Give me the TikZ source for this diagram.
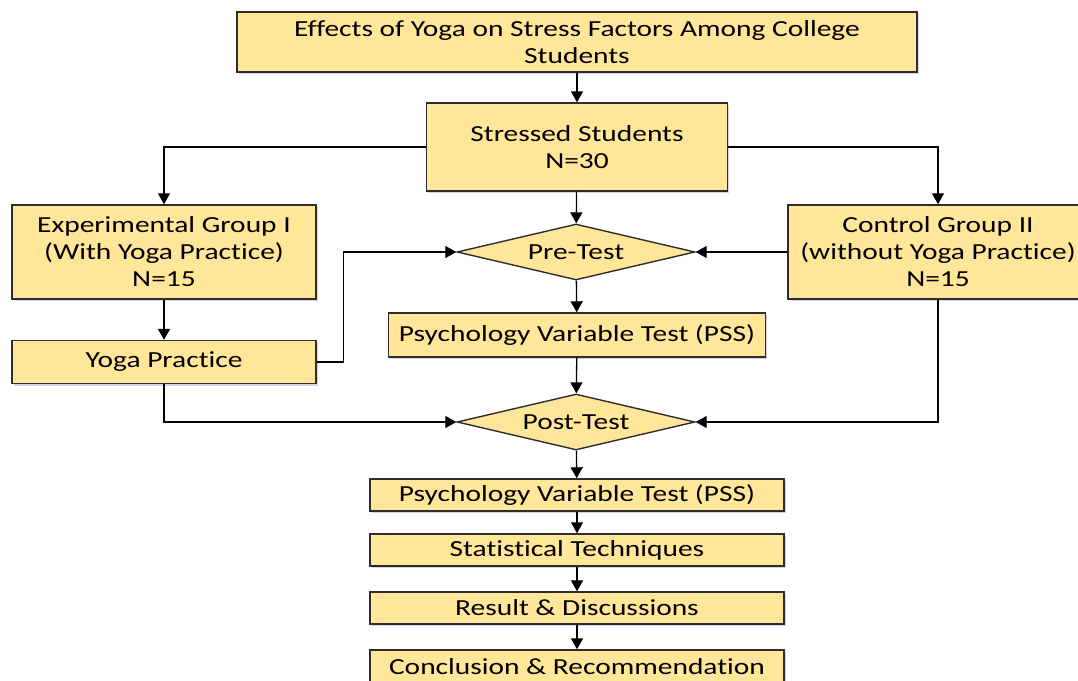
\documentclass[tikz,border=0pt]{standalone}
\usepackage{fontspec}
\setmainfont{Carlito}[Ligatures=NoCommon, FakeStretch=1.28]
\usetikzlibrary{positioning, arrows.meta, shapes.geometric, shadows}
\definecolor{boxfill}{RGB}{255,230,153}
\definecolor{boxline}{RGB}{45,45,45}

\begin{document}
\begin{tikzpicture}[
            x=1pt, y=-1pt,
            font=\fontsize{23}{27}\selectfont,
            stage/.style={rectangle, draw=boxline, line width=1.4pt, fill=boxfill, align=center, inner sep=0pt, drop shadow={shadow xshift=1.5pt, shadow yshift=-2pt, opacity=0.25, fill=blue!40!gray}},
            test/.style={diamond, draw=boxline, line width=1.4pt, fill=boxfill, inner sep=0pt, aspect=4.25, minimum width=238pt, minimum height=56pt},
            arrow/.style={draw, line width=1.3pt, -{Triangle[length=11pt, width=12pt]}}
        ]
            \useasboundingbox (0,0) rectangle (1078,680);

            % --- Top of the flow ---
            \node[stage, minimum width=680pt, minimum height=60pt] (title) at (577,42) {Effects of Yoga on Stress Factors Among College\\Students};
            \node[stage, minimum width=301pt, minimum height=88pt] (stressed) at (577,147) {Stressed Students\\N=30};

            % --- The two groups ---
            \node[stage, minimum width=304pt, minimum height=94pt] (expgroup) at (164,252) {Experimental Group I\\(With Yoga Practice)\\N=15};
            \node[stage, minimum width=300pt, minimum height=94pt] (ctrlgroup) at (938,252) {Control Group II\\(without Yoga Practice)\\N=15};
            \node[stage, minimum width=304pt, minimum height=43pt] (yoga) at (164,362) {Yoga Practice};

            % --- Tests ---
            \node[test] (pretest) at (576,252) {Pre-Test};
            \node[stage, minimum width=377pt, minimum height=44pt] (pvtpre) at (577,335) {Psychology Variable Test (PSS)};
            \node[test] (posttest) at (576,422) {Post-Test};

            % --- Analysis chain ---
            \node[stage, minimum width=414pt, minimum height=32pt] (pvtpost) at (577,495) {Psychology Variable Test (PSS)};
            \node[stage, minimum width=414pt, minimum height=32pt] (stats) at (577,550) {Statistical Techniques};
            \node[stage, minimum width=414pt, minimum height=32pt] (result) at (577,608) {Result \& Discussions};
            \node[stage, minimum width=414pt, minimum height=42pt, text depth=9pt] (concl) at (577,671) {Conclusion \& Recommendation};

            % --- Connectors ---
            \draw[arrow] (title) -- (stressed);
            \draw[arrow] (stressed.west) -| (expgroup.north);
            \draw[arrow] (stressed.east) -| (ctrlgroup.north);
            \draw[arrow] (stressed) -- (pretest);
            \draw[arrow] (ctrlgroup) -- (pretest);
            \draw[arrow] (expgroup) -- (yoga);
            \draw[arrow] (yoga.east) -- ++(27,0) |- (pretest.west);
            \draw[arrow] (pretest) -- (pvtpre);
            \draw[arrow] (pvtpre) -- (posttest);
            \draw[arrow] (yoga.south) |- (posttest.west);
            \draw[arrow] (ctrlgroup.south) |- (posttest.east);
            \draw[arrow] (posttest) -- (pvtpost);
            \draw[arrow] (pvtpost) -- (stats);
            \draw[arrow] (stats) -- (result);
            \draw[arrow] (result) -- (concl);

        \end{tikzpicture}
\end{document}
